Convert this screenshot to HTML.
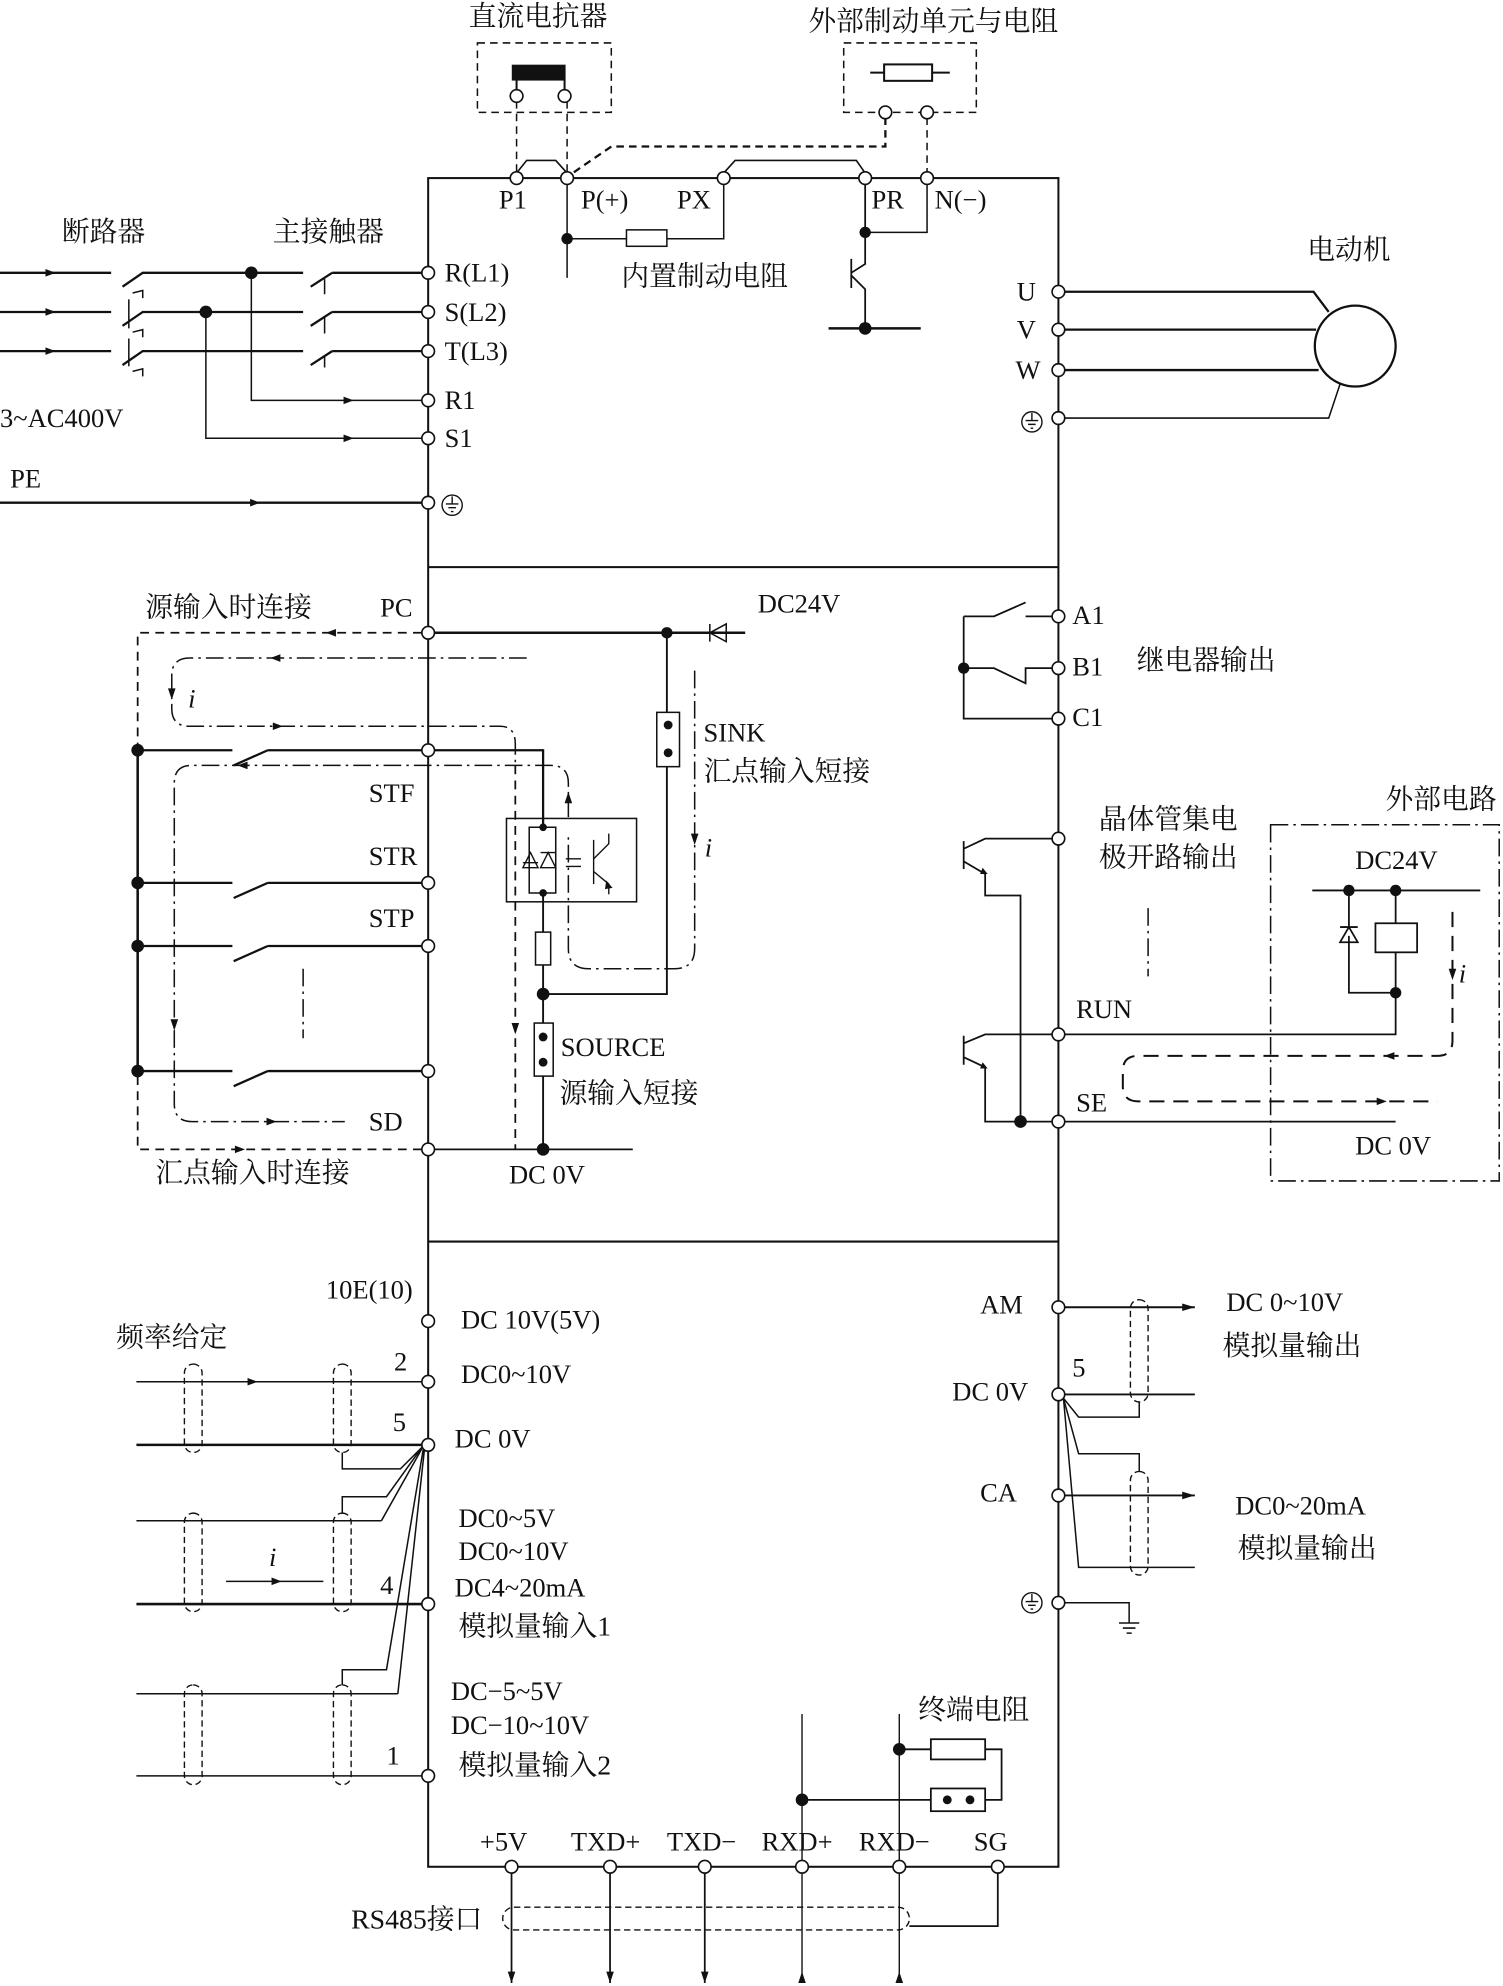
<!DOCTYPE html>
<html><head><meta charset="utf-8"><style>
html,body{margin:0;padding:0;background:#fff}
svg{display:block}
text{font-family:"Liberation Serif","Noto Serif CJK SC",serif;font-size:21px;fill:#111}
.c{font-family:"Liberation Serif","Noto Serif CJK SC","Noto Sans CJK SC",serif;font-size:22px}
</style></head><body>
<svg width="1503" height="1986" viewBox="0 0 1190 1572.4" preserveAspectRatio="none" xmlns="http://www.w3.org/2000/svg">
<g fill="none" stroke="#111" stroke-width="1.6">
<!-- main box -->
<rect x="339" y="141" width="499" height="1337"/>
<line x1="339" y1="449" x2="838" y2="449"/>
<line x1="339" y1="983" x2="838" y2="983"/>

<!-- top: reactor & ext brake -->
<rect x="378" y="34" width="106" height="55" stroke-dasharray="6 4" stroke-width="1.2"/>
<rect x="668" y="34" width="105" height="55" stroke-dasharray="6 4" stroke-width="1.2"/>
<rect x="406" y="52" width="41" height="11" fill="#111"/>
<line x1="409" y1="63" x2="409" y2="72"/><line x1="447" y1="63" x2="447" y2="72"/>
<rect x="700" y="51" width="38" height="13"/>
<line x1="689" y1="57.5" x2="700" y2="57.5"/><line x1="738" y1="57.5" x2="752" y2="57.5"/>
<g stroke-dasharray="6 4" stroke-width="1.2">
<line x1="409" y1="80" x2="409" y2="136"/><line x1="449" y1="80" x2="449" y2="136"/>
<path d="M701,93 V116 H484 L452,138" stroke-width="1.8"/>
<line x1="734" y1="93" x2="734" y2="136"/>
</g>
<path d="M409,137 L417,127 H440 L449,137" stroke-width="1.3"/>
<path d="M573,137 L582,127 H678 L685,137" stroke-width="1.3"/>
<line x1="449" y1="141" x2="449" y2="220" stroke-width="1.2"/>
<path d="M449,189 H496 M528,189 H573 V141" stroke-width="1.2"/>
<rect x="496" y="182" width="32" height="13" stroke-width="1.2"/>
<path d="M734,141 V184 H685" stroke-width="1.2"/>
<path d="M685,141 V209 L674,216 M674,205 V228 M674,218 L685,229 V260" stroke-width="1.4"/>
<line x1="656" y1="260" x2="729" y2="260" stroke-width="2"/>

<!-- left inputs -->
<g stroke-width="1.8">
<line x1="0" y1="216" x2="88" y2="216"/>
<line x1="0" y1="247" x2="88" y2="247"/>
<line x1="0" y1="278" x2="88" y2="278"/>
<path d="M97,227 L113,216 H240 M97,258 L113,247 H240 M97,289 L113,278 H240"/>
<path d="M263,216 H334 M263,247 H334 M263,278 H334"/>
<path d="M246,227 L263,216 M246,258 L263,247 M246,289 L263,278"/>
<line x1="0" y1="398" x2="334" y2="398"/>
</g>
<g stroke-width="1.2">
<path d="M102,237 V260 M102,268 V290"/>
<path d="M257,221 V233 M257,251 V264 M257,282 V291"/>
<path d="M105,232 l8,-2 0,6 M105,263 l8,-2 0,6 M105,294 l8,-2 0,6"/>
<path d="M199,216 V317 H334 M163,247 V347 H334"/>
</g>
<!-- right motor -->
<g stroke-width="1.8">
<path d="M843,231 H1040 L1052,247"/>
<path d="M843,261 H1042"/>
<path d="M843,293 H1044"/>
<path d="M843,331 H1052 L1061,304" stroke-width="1.2"/>
<circle cx="1073" cy="274" r="32"/>
</g>

<!-- middle left -->
<path d="M344,501 H590" stroke-width="2"/>
<path d="M562,494 V508 M562,501 L575,494 V508 Z" stroke-width="1.2"/>
<line x1="528" y1="501" x2="528" y2="564" stroke-width="1.5"/>
<rect x="520" y="564" width="18" height="43" stroke-width="1.2"/>
<path d="M528,607 V787 H430" stroke-width="1.5"/>
<g stroke-dasharray="7 5" stroke-width="1.4">
<path d="M334,501 H109 V910 H334"/>
<line x1="408" y1="606" x2="408" y2="910"/>
</g>
<line x1="109" y1="594" x2="109" y2="848" stroke-width="2"/>
<g stroke-width="1.8">
<path d="M109,594 H184 M212,594 H334 M185,606 L212,594"/>
<path d="M109,699 H184 M212,699 H334 M185,711 L212,699"/>
<path d="M109,749 H184 M212,749 H334 M185,761 L212,749"/>
<path d="M109,848 H184 M212,848 H334 M185,860 L212,848"/>
<path d="M344,594 H430 V656"/>
<path d="M344,910 H501" stroke-width="1.4"/>
</g>
<g stroke-dasharray="14 4 2 4" stroke-width="1.2">
<path d="M417,521 H150 q-14,0 -14,14 V561 q0,14 14,14 H396 q12,0 12,14 V606"/>
<path d="M450,647 V620 q0,-14 -14,-14 H152 q-14,0 -14,14 V874 q0,14 14,14 H273"/>
<path d="M550,531 V751 q0,16 -16,16 H466 q-16,0 -16,-16 V660"/>
<line x1="240" y1="767" x2="240" y2="822"/>
</g>
<rect x="401" y="648" width="103" height="66" stroke-width="1.2"/>
<path d="M419,655 H440 V707 H419 Z" stroke-width="1.2"/>
<path d="M414,683 H426 M420,675 L414,687 H426 Z M434,675 L428,687 H440 Z M428,675 H440" stroke-width="1.1"/>
<path d="M448,680 H460 M448,686 H460 M470,665 V700 M470,680 L482,668 V660 M470,690 L482,700 V708" stroke-width="1.1"/>
<path d="M430,707 V738 M430,764 V810 M430,852 V910" stroke-width="1.5"/>
<rect x="424" y="738" width="12" height="26" stroke-width="1.2"/>
<rect x="423" y="810" width="15" height="42" stroke-width="1.2"/>

<!-- middle right relay -->
<g stroke-width="1.4">
<path d="M763,488 V569 H834"/>
<path d="M763,488 H787 L812,477 M812,488 H834"/>
<path d="M763,529 H787 L812,541 V529 H834"/>
<path d="M763,666 V688 M763,672 L780,664 H834 M763,682 L780,692 V709 H808 V888"/>
<path d="M763,820 V843 M763,826 L780,819 H834 M763,837 L780,845 V888 H834"/>
<path d="M843,819 H1105 V786 H1068 V741 M1068,734 V705"/>
<path d="M843,888 H1105"/>
<path d="M1039,705 H1172 M1105,705 V731 M1105,754 V786"/>
<path d="M1061,734 H1075 M1068,734 L1061,746 H1075 Z"/>
</g>
<rect x="1089" y="731" width="33" height="23" stroke-width="1.4"/>
<rect x="1006" y="653" width="181" height="282" stroke-dasharray="14 4 2 4" stroke-width="1.2"/>
<g stroke-dasharray="12 7" stroke-width="1.6">
<path d="M1150,722 V824 q0,12 -12,12 H901 q-12,0 -12,12 V860 q0,12 12,12 H1138"/>
</g>
<line x1="909" y1="719" x2="909" y2="773" stroke-dasharray="14 4 2 4" stroke-width="1.2"/>

<!-- bottom left analog -->
<g stroke-width="1.2">
<line x1="108" y1="1094" x2="334" y2="1094"/>
<line x1="108" y1="1144" x2="334" y2="1144" stroke-width="2"/>
<line x1="108" y1="1204" x2="302" y2="1204"/>
<line x1="108" y1="1270" x2="334" y2="1270" stroke-width="2"/>
<line x1="108" y1="1341" x2="315" y2="1341"/>
<line x1="108" y1="1406" x2="334" y2="1406"/>
<path d="M334,1146 L317,1163 H271 V1150 M334,1146 L306,1185 H271 V1198 M334,1147 L302,1204 M335,1148 L306,1322 H271 V1334 M336,1148 L315,1341"/>
<line x1="179" y1="1252" x2="256" y2="1252"/>
</g>
<g stroke-dasharray="5 3" stroke-width="1.1">
<rect x="146" y="1080" width="14" height="70" rx="7"/>
<rect x="264" y="1080" width="14" height="70" rx="7"/>
<rect x="146" y="1198" width="14" height="78" rx="7"/>
<rect x="264" y="1198" width="14" height="78" rx="7"/>
<rect x="146" y="1334" width="14" height="79" rx="7"/>
<rect x="264" y="1334" width="14" height="79" rx="7"/>
<rect x="895" y="1029" width="14" height="81" rx="7"/>
<rect x="895" y="1165" width="14" height="82" rx="7"/>
<rect x="398" y="1510" width="322" height="18" rx="9"/>
</g>
<!-- bottom right analog -->
<g stroke-width="1.5">
<line x1="843" y1="1035" x2="946" y2="1035"/>
<line x1="843" y1="1104" x2="946" y2="1104"/>
<line x1="843" y1="1184" x2="946" y2="1184"/>
<path d="M842,1107 L854,1122 H902 V1110 M842,1107 L854,1151 H902 V1165 M842,1107 L854,1241 H946" stroke-width="1.2"/>
<path d="M843,1269 H894 V1285 M886,1285 H902 M889,1289 H899 M892,1293 H896" stroke-width="1.2"/>
</g>
<!-- RS485 -->
<g stroke-width="1.4">
<path d="M405,1483 V1570 M483,1483 V1570 M558,1483 V1570" />
<path d="M635,1357 V1473 M635,1483 V1570 M712,1357 V1473 M712,1483 V1570" stroke-width="1.1"/>
<path d="M635,1425 H737 M780,1425 H793 V1385 H780 M712,1385 H737"/>
<path d="M790,1483 V1525 H720"/>
</g>
<rect x="737" y="1416" width="43" height="18" stroke-width="1.4"/>
<rect x="737" y="1377" width="43" height="16" stroke-width="1.4"/>
</g>

<!-- arrows -->
<g fill="#111">
<path d="M36,213 l8,3 -8,3z M36,244 l8,3 -8,3z M36,275 l8,3 -8,3z"/>
<path d="M272,314 l8,3 -8,3z M272,344 l8,3 -8,3z M198,395 l8,3 -8,3z"/>
<path d="M266,498 l-8,3 8,3z M186,907 l8,3 -8,3z"/>
<path d="M222,518 l-8,3 8,3z M216,572 l8,3 -8,3z M196,603 l-8,3 8,3z M211,885 l8,3 -8,3z"/>
<path d="M133,545 l3,9 3,-9z M135,807 l3,9 3,-9z M405,810 l3,9 3,-9z M547,660 l3,9 3,-9z M1147,767 l3,9 3,-9z M447,636 l3,-9 3,9z"/>
<path d="M1104,833 l-8,3 8,3z M1090,869 l8,3 -8,3z"/>
<path d="M196,1091 l8,3 -8,3z M215,1249 l8,3 -8,3z"/>
<path d="M936,1032 l10,3 -10,3z M936,1181 l10,3 -10,3z"/>
<path d="M402,1561 l3,9 3,-9z M480,1561 l3,9 3,-9z M555,1561 l3,9 3,-9z M632,1570 l3,-9 3,9z M709,1570 l3,-9 3,9z"/>
<path d="M480,697 l5,6 -6,1z M778,687 l4,5 -6,0z M778,841 l4,5 -6,0z"/>
</g>
<!-- dots -->
<g fill="#111">
<circle cx="199" cy="216" r="5"/><circle cx="163" cy="247" r="5"/>
<circle cx="449" cy="189" r="4.5"/><circle cx="685" cy="184" r="4.5"/><circle cx="685" cy="260" r="5"/>
<circle cx="528" cy="501" r="4.5"/><circle cx="529" cy="574" r="3.5"/><circle cx="529" cy="596" r="3.5"/>
<circle cx="109" cy="594" r="5"/><circle cx="109" cy="699" r="5"/><circle cx="109" cy="749" r="5"/><circle cx="109" cy="848" r="5"/>
<circle cx="430" cy="655" r="3"/><circle cx="430" cy="707" r="3"/>
<circle cx="430" cy="787" r="5"/><circle cx="430" cy="821" r="3.5"/><circle cx="430" cy="841" r="3.5"/><circle cx="430" cy="910" r="5"/>
<circle cx="763" cy="529" r="4.5"/><circle cx="808" cy="888" r="5"/>
<circle cx="1068" cy="705" r="4.5"/><circle cx="1105" cy="705" r="4.5"/><circle cx="1105" cy="786" r="4.5"/>
<circle cx="635" cy="1425" r="5"/><circle cx="712" cy="1385" r="5"/>
<circle cx="750" cy="1425" r="3.5"/><circle cx="768" cy="1425" r="3.5"/>
</g>
<!-- terminals -->
<g fill="#fff" stroke="#111" stroke-width="1.3">
<circle cx="409" cy="76" r="5"/><circle cx="447" cy="76" r="5"/>
<circle cx="701" cy="89" r="5"/><circle cx="734" cy="89" r="5"/>
<circle cx="409" cy="141" r="5"/><circle cx="449" cy="141" r="5"/><circle cx="573" cy="141" r="5"/><circle cx="685" cy="141" r="5"/><circle cx="734" cy="141" r="5"/>
<circle cx="339" cy="216" r="5"/><circle cx="339" cy="247" r="5"/><circle cx="339" cy="278" r="5"/><circle cx="339" cy="317" r="5"/><circle cx="339" cy="347" r="5"/><circle cx="339" cy="398" r="5"/>
<circle cx="838" cy="231" r="5"/><circle cx="838" cy="261" r="5"/><circle cx="838" cy="293" r="5"/><circle cx="838" cy="331" r="5"/>
<circle cx="339" cy="501" r="5"/><circle cx="339" cy="594" r="5"/><circle cx="339" cy="699" r="5"/><circle cx="339" cy="749" r="5"/><circle cx="339" cy="848" r="5"/><circle cx="339" cy="910" r="5"/>
<circle cx="838" cy="488" r="5"/><circle cx="838" cy="529" r="5"/><circle cx="838" cy="569" r="5"/><circle cx="838" cy="664" r="5"/><circle cx="838" cy="819" r="5"/><circle cx="838" cy="888" r="5"/>
<circle cx="339" cy="1046" r="5"/><circle cx="339" cy="1094" r="5"/><circle cx="339" cy="1144" r="5"/><circle cx="339" cy="1270" r="5"/><circle cx="339" cy="1406" r="5"/>
<circle cx="838" cy="1035" r="5"/><circle cx="838" cy="1104" r="5"/><circle cx="838" cy="1184" r="5"/><circle cx="838" cy="1269" r="5"/>
<circle cx="405" cy="1478" r="5"/><circle cx="483" cy="1478" r="5"/><circle cx="558" cy="1478" r="5"/><circle cx="635" cy="1478" r="5"/><circle cx="712" cy="1478" r="5"/><circle cx="790" cy="1478" r="5"/>
</g>
<!-- ground symbols -->
<g fill="none" stroke="#111" stroke-width="1.1">
<circle cx="358" cy="400" r="8"/><path d="M358,393 V399 M353,399 H363 M355,402 H361 M357,405 H359"/>
<circle cx="817" cy="334" r="8"/><path d="M817,327 V333 M812,333 H822 M814,336 H820 M816,339 H818"/>
<circle cx="817" cy="1269" r="8"/><path d="M817,1262 V1268 M812,1268 H822 M814,1271 H820 M816,1274 H818"/>
</g>

<!-- text -->
<text class="c" x="371" y="20">直流电抗器</text>
<text class="c" x="640" y="24">外部制动单元与电阻</text>
<text x="395" y="165">P1</text><text x="460" y="165">P(+)</text><text x="536" y="165">PX</text><text x="690" y="165">PR</text><text x="740" y="165">N(−)</text>
<text class="c" x="49" y="191">断路器</text><text class="c" x="216" y="191">主接触器</text>
<text class="c" x="492" y="226">内置制动电阻</text>
<text class="c" x="1035" y="205">电动机</text>
<text x="352" y="223">R(L1)</text><text x="352" y="254">S(L2)</text><text x="352" y="285">T(L3)</text><text x="352" y="324">R1</text><text x="352" y="354">S1</text>
<text x="0" y="338">3~AC400V</text><text x="8" y="386">PE</text>
<text x="805" y="238">U</text><text x="805" y="268">V</text><text x="804" y="300">W</text>
<text class="c" x="115" y="488">源输入时连接</text><text x="301" y="488">PC</text>
<text x="600" y="485">DC24V</text>
<text x="557" y="587">SINK</text><text class="c" x="557" y="618">汇点输入短接</text>
<text font-style="italic" x="149" y="560">i</text><text font-style="italic" x="558" y="678">i</text><text font-style="italic" x="1155" y="778">i</text><text font-style="italic" x="213" y="1240">i</text>
<text x="292" y="635">STF</text><text x="292" y="685">STR</text><text x="292" y="734">STP</text><text x="292" y="895">SD</text>
<text x="444" y="836">SOURCE</text><text class="c" x="443" y="873">源输入短接</text>
<text class="c" x="123" y="936">汇点输入时连接</text><text x="403" y="937">DC 0V</text>
<text x="849" y="494">A1</text><text x="849" y="535">B1</text><text x="849" y="575">C1</text>
<text class="c" x="900" y="530">继电器输出</text>
<text class="c" x="870" y="656">晶体管集电</text><text class="c" x="870" y="686">极开路输出</text>
<text class="c" x="1097" y="640">外部电路</text><text x="1073" y="688">DC24V</text>
<text x="852" y="806">RUN</text><text x="852" y="880">SE</text><text x="1073" y="914">DC 0V</text>
<text x="258" y="1028">10E(10)</text><text x="365" y="1052">DC 10V(5V)</text>
<text class="c" x="92" y="1066">频率给定</text>
<text x="312" y="1085">2</text><text x="311" y="1133">5</text><text x="301" y="1262">4</text><text x="306" y="1397">1</text>
<text x="365" y="1095">DC0~10V</text><text x="360" y="1146">DC 0V</text>
<text x="363" y="1209">DC0~5V</text><text x="363" y="1235">DC0~10V</text><text x="360" y="1264">DC4~20mA</text><text class="c" x="363" y="1295">模拟量输入1</text>
<text x="357" y="1346">DC−5~5V</text><text x="357" y="1373">DC−10~10V</text><text class="c" x="363" y="1405">模拟量输入2</text>
<text x="776" y="1040">AM</text><text x="754" y="1109">DC 0V</text><text x="849" y="1090">5</text><text x="776" y="1189">CA</text>
<text x="971" y="1038">DC 0~10V</text><text class="c" x="968" y="1073">模拟量输出</text>
<text x="978" y="1199">DC0~20mA</text><text class="c" x="980" y="1233">模拟量输出</text>
<text class="c" x="727" y="1361">终端电阻</text>
<text x="380" y="1465">+5V</text><text x="452" y="1465">TXD+</text><text x="528" y="1465">TXD−</text><text x="603" y="1465">RXD+</text><text x="680" y="1465">RXD−</text><text x="771" y="1465">SG</text>
<text class="c" x="278" y="1527">RS485接口</text>
</svg>
</body></html>
